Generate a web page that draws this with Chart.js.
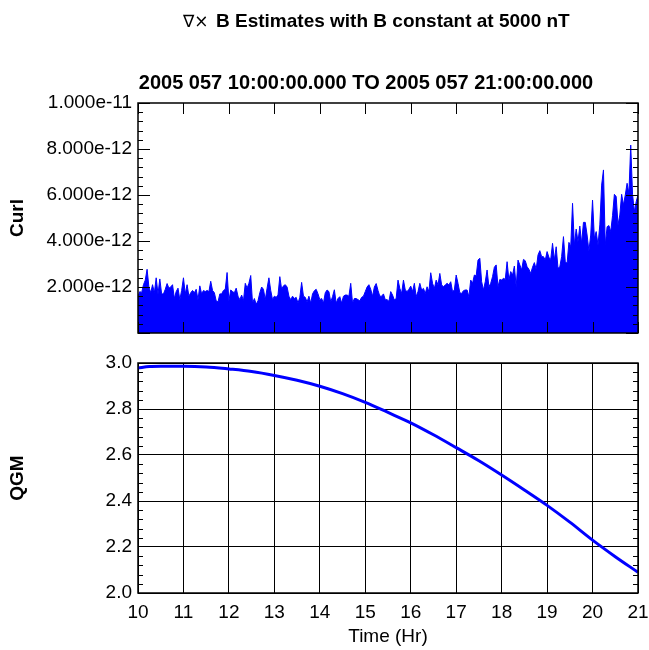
<!DOCTYPE html>
<html>
<head>
<meta charset="utf-8">
<script src="https://cdn.jsdelivr.net/npm/chart.js@4.4.0/dist/chart.umd.min.js"></script>
<style>
  html, body { margin: 0; padding: 0; background: #ffffff; }
  #wrap { position: relative; width: 649px; height: 650px; background: #ffffff; }
  #c1 { position: absolute; left: 0; top: 0; }
  #c2 { position: absolute; left: 0; top: 345px; }
</style>
</head>
<body>
<div id="wrap">
  <canvas id="c1" width="649" height="345"></canvas>
  <canvas id="c2" width="649" height="305"></canvas>
</div>
<script>
// ---------------- text ----------------
const titleSymbol = "∇×";
const titleRest = "B Estimates with B constant at 5000 nT";
const subtitleText = "2005 057 10:00:00.000 TO 2005 057 21:00:00.000";
const curlAxisTitle = "Curl";
const qgmAxisTitle = "QGM";
const timeAxisTitle = "Time (Hr)";

// ---------------- tick values ----------------
const hourTicks = [10, 11, 12, 13, 14, 15, 16, 17, 18, 19, 20, 21];
const curlTickValuesE12 = [2, 4, 6, 8, 10];          // labelled ticks, units of 1e-12
const curlFrameTicksE12 = [0, 2, 4, 6, 8, 10];       // tick marks on frame
const qgmTickValues = [2.0, 2.2, 2.4, 2.6, 2.8, 3.0];

// ---------------- Curl series (units of 1e-12), sampled every 0.04 hr from 10:00 ----------------
const curlStartHr = 10.0;
const curlStepHr = 0.04;
const curlValuesE12 = [
  // 10.00 - 11.84
  1.6, 1.8, 1.75, 2.1, 2.3, 2.77, 2.0, 1.75, 2.1, 1.75, 2.4, 1.7, 2.35, 1.7, 1.7, 1.9,
  2.15, 1.95, 2.0, 2.1, 1.5, 1.8, 1.95, 1.45, 1.85, 2.4, 1.7, 2.1, 1.6, 1.75, 1.85, 1.75,
  1.9, 1.45, 2.05, 1.7, 1.85, 1.8, 1.85, 1.8, 2.25, 1.85, 1.75, 1.4, 1.35, 1.7, 1.7,
  // 11.88 - 13.68
  1.85, 1.9, 2.63, 1.4, 1.87, 1.8, 1.75, 1.95, 1.6, 1.45, 1.65, 1.4, 2.16, 1.95, 2.16, 2.5,
  1.3, 1.5, 1.25, 1.4, 1.75, 2.0, 1.9, 1.45, 1.95, 2.4, 1.85, 1.45, 1.6, 1.55, 1.65, 2.45,
  1.9, 2.05, 2.1, 2.0, 1.6, 1.45, 1.6, 1.5, 1.55, 1.3, 1.55, 2.2, 1.6, 1.55,
  // 13.72 - 15.52
  1.35, 1.6, 1.3, 1.7, 1.84, 1.9, 1.7, 1.45, 1.5, 1.3, 1.75, 1.87, 1.8, 1.35, 1.58, 1.88,
  1.3, 1.5, 1.58, 1.3, 1.6, 1.65, 1.65, 1.6, 2.16, 1.3, 1.5, 1.5, 1.45, 1.4, 1.55, 1.6,
  1.8, 2.0, 2.1, 1.9, 1.6, 2.0, 2.15, 1.85, 1.6, 1.6, 1.7, 1.45, 1.45, 1.38,
  // 15.56 - 17.36
  1.80, 1.65, 1.43, 1.51, 2.30, 1.94, 1.72, 2.30, 1.87, 1.80, 1.90, 2.04, 1.80, 2.16, 1.58, 1.80,
  2.16, 1.87, 1.94, 1.72, 2.01, 1.80, 2.62, 2.16, 1.94, 2.30, 2.09, 2.59, 2.09, 2.01, 2.09, 2.16,
  2.09, 2.23, 1.80, 1.87, 2.52, 2.16, 1.75, 1.72, 1.84, 1.87, 1.87, 1.58, 2.30, 2.16,
  // 17.40 - 19.20
  2.52, 2.48, 3.17, 3.25, 2.23, 1.87, 2.23, 2.74, 2.01, 2.16, 2.45, 2.86, 2.96, 2.01, 2.33, 2.30,
  2.38, 2.33, 3.10, 2.30, 2.67, 2.52, 2.91, 2.01, 3.17, 2.96, 2.74, 3.20, 3.14, 2.88, 2.77, 2.59,
  2.86, 3.06, 2.77, 3.39, 3.58, 3.32, 3.32, 3.17, 3.54, 3.29, 3.20, 3.90, 3.17, 3.75,
  // 19.24 - 21.00
  2.81, 2.88, 3.32, 4.19, 3.10, 3.03, 3.94, 3.75, 5.64, 3.83, 4.52, 3.97, 4.65, 3.90, 4.81, 4.81,
  4.26, 3.57, 4.26, 5.78, 4.12, 4.41, 3.83, 4.70, 6.43, 7.09, 3.83, 4.62, 4.67, 4.41, 5.10, 6.03,
  5.93, 4.70, 5.13, 6.03, 5.57, 6.00, 6.51, 6.07, 8.17, 6.03, 5.28, 5.71, 6.00
];

// ---------------- QGM series ----------------
const qgmTimes  = [10, 10.25, 10.5, 11, 11.5, 12, 12.5, 13, 13.5, 14, 14.5, 15, 15.5, 16, 16.5, 17, 17.5, 18, 18.5, 19, 19.5, 20, 20.5, 21];
const qgmValues = [2.978, 2.985, 2.986, 2.986, 2.983, 2.974, 2.963, 2.946, 2.925, 2.899, 2.867, 2.829, 2.785, 2.740, 2.688, 2.632, 2.575, 2.513, 2.448, 2.381, 2.308, 2.230, 2.158, 2.090];

// ---------------- styles ----------------
const BLUE = '#0000ff';
Chart.defaults.font.family = '"Liberation Sans", Arial, Helvetica, sans-serif';
Chart.defaults.color = '#000000';

function zeroPad(s) { s.paddingLeft = 0; s.paddingRight = 0; s.paddingTop = 0; s.paddingBottom = 0; }

// frame + inward tick marks plugin
const framePlugin = {
  id: 'frame',
  afterDatasetsDraw(chart, args, o) {
    const { ctx, chartArea: a, scales } = chart;
    const xs = scales.x, ys = scales.y;
    ctx.save();
    ctx.strokeStyle = '#000';
    ctx.lineWidth = 1;
    ctx.beginPath();
    (o.xMajor || []).forEach(v => {
      const px = Math.round(xs.getPixelForValue(v)) + 0.5;
      ctx.moveTo(px, a.top); ctx.lineTo(px, a.top + o.xLen);
      ctx.moveTo(px, a.bottom); ctx.lineTo(px, a.bottom - o.xLen);
    });
    (o.yMajor || []).forEach(v => {
      const py = Math.round(ys.getPixelForValue(v)) + 0.5;
      ctx.moveTo(a.left, py); ctx.lineTo(a.left + o.yLen, py);
      ctx.moveTo(a.right, py); ctx.lineTo(a.right - o.yLen, py);
    });
    const mj = o.yMinorFrom || [];
    for (let i = 0; i < mj.length - 1; i++) {
      for (let k = 1; k < o.minorN; k++) {
        const v = mj[i] + (mj[i + 1] - mj[i]) * k / o.minorN;
        const py = Math.round(ys.getPixelForValue(v)) + 0.5;
        ctx.moveTo(a.left, py); ctx.lineTo(a.left + o.minorLen, py);
        ctx.moveTo(a.right, py); ctx.lineTo(a.right - o.minorLen, py);
      }
    }
    ctx.stroke();
    ctx.lineWidth = 1.5;
    ctx.strokeRect(a.left, a.top, a.right - a.left, a.bottom - a.top);
    ctx.restore();
  }
};

// page titles plugin
const titlesPlugin = {
  id: 'titles',
  afterDraw(chart) {
    const ctx = chart.ctx;
    ctx.save();
    ctx.fillStyle = '#000';
    ctx.textBaseline = 'alphabetic';
    ctx.textAlign = 'left';
    ctx.font = '17px "DejaVu Sans", sans-serif';
    ctx.fillText(titleSymbol, 183, 27);
    ctx.font = 'bold 19px "Liberation Sans", Arial, sans-serif';
    ctx.fillText(titleRest, 216, 27);
    ctx.font = 'bold 20px "Liberation Sans", Arial, sans-serif';
    ctx.textAlign = 'center';
    ctx.fillText(subtitleText, 366, 89);
    ctx.restore();
  }
};

const curlPoints = curlValuesE12.map((v, i) => ({ x: curlStartHr + i * curlStepHr, y: v }));
const qgmPoints = qgmValues.map((v, i) => ({ x: qgmTimes[i], y: v }));

// ---------------- top chart: Curl ----------------
new Chart(document.getElementById('c1'), {
  type: 'line',
  data: {
    datasets: [{
      data: curlPoints,
      borderColor: BLUE,
      backgroundColor: BLUE,
      borderWidth: 1,
      pointRadius: 0,
      tension: 0,
      fill: 'origin'
    }]
  },
  options: {
    responsive: false,
    animation: false,
    events: [],
    layout: { padding: { left: 0, right: 11, top: 103, bottom: 12 } },
    plugins: {
      legend: { display: false },
      tooltip: { enabled: false },
      frame: { xMajor: hourTicks, xLen: 11, yMajor: curlFrameTicksE12, yLen: 12, yMinorFrom: curlFrameTicksE12, minorN: 5, minorLen: 5 }
    },
    scales: {
      x: { type: 'linear', display: false, min: 10, max: 21, afterFit: zeroPad },
      y: {
        type: 'linear', min: 0, max: 10,
        afterBuildTicks: s => { s.ticks = curlTickValuesE12.map(v => ({ value: v })); },
        afterFit: s => { s.width = 138; zeroPad(s); },
        grid: { display: false, drawTicks: false },
        border: { display: false },
        ticks: { padding: 6, font: { size: 19 }, color: '#000', callback: v => (v * 1e-12).toExponential(3) },
        title: { display: true, text: curlAxisTitle, color: '#000', font: { size: 19, weight: 'bold' }, padding: { top: 6, bottom: 6 } }
      }
    }
  },
  plugins: [framePlugin, titlesPlugin]
});

// ---------------- bottom chart: QGM ----------------
new Chart(document.getElementById('c2'), {
  type: 'line',
  data: {
    datasets: [{
      data: qgmPoints,
      borderColor: BLUE,
      borderWidth: 3,
      pointRadius: 0,
      cubicInterpolationMode: 'monotone',
      fill: false
    }]
  },
  options: {
    responsive: false,
    animation: false,
    events: [],
    layout: { padding: { left: 0, right: 11, top: 18, bottom: 0 } },
    plugins: {
      legend: { display: false },
      tooltip: { enabled: false },
      frame: { xMajor: [], xLen: 0, yMajor: [], yLen: 0, yMinorFrom: qgmTickValues, minorN: 5, minorLen: 5 }
    },
    scales: {
      x: {
        type: 'linear', min: 10, max: 21,
        afterBuildTicks: s => { s.ticks = hourTicks.map(v => ({ value: v })); },
        afterFit: s => { s.height = 57; zeroPad(s); },
        grid: { color: '#000', lineWidth: 1, drawTicks: false },
        border: { display: false },
        ticks: { padding: 8, font: { size: 19 }, color: '#000', maxRotation: 0, autoSkip: false, callback: v => String(v) },
        title: { display: true, text: timeAxisTitle, color: '#000', font: { size: 19 }, padding: { top: 2, bottom: 2 } }
      },
      y: {
        type: 'linear', min: 2, max: 3,
        afterBuildTicks: s => { s.ticks = qgmTickValues.map(v => ({ value: v })); },
        afterFit: s => { s.width = 138; zeroPad(s); },
        grid: { color: '#000', lineWidth: 1, drawTicks: false },
        border: { display: false },
        ticks: { padding: 6, font: { size: 19 }, color: '#000', callback: v => v.toFixed(1) },
        title: { display: true, text: qgmAxisTitle, color: '#000', font: { size: 19, weight: 'bold' }, padding: { top: 6, bottom: 6 } }
      }
    }
  },
  plugins: [framePlugin]
});
</script>
</body>
</html>
